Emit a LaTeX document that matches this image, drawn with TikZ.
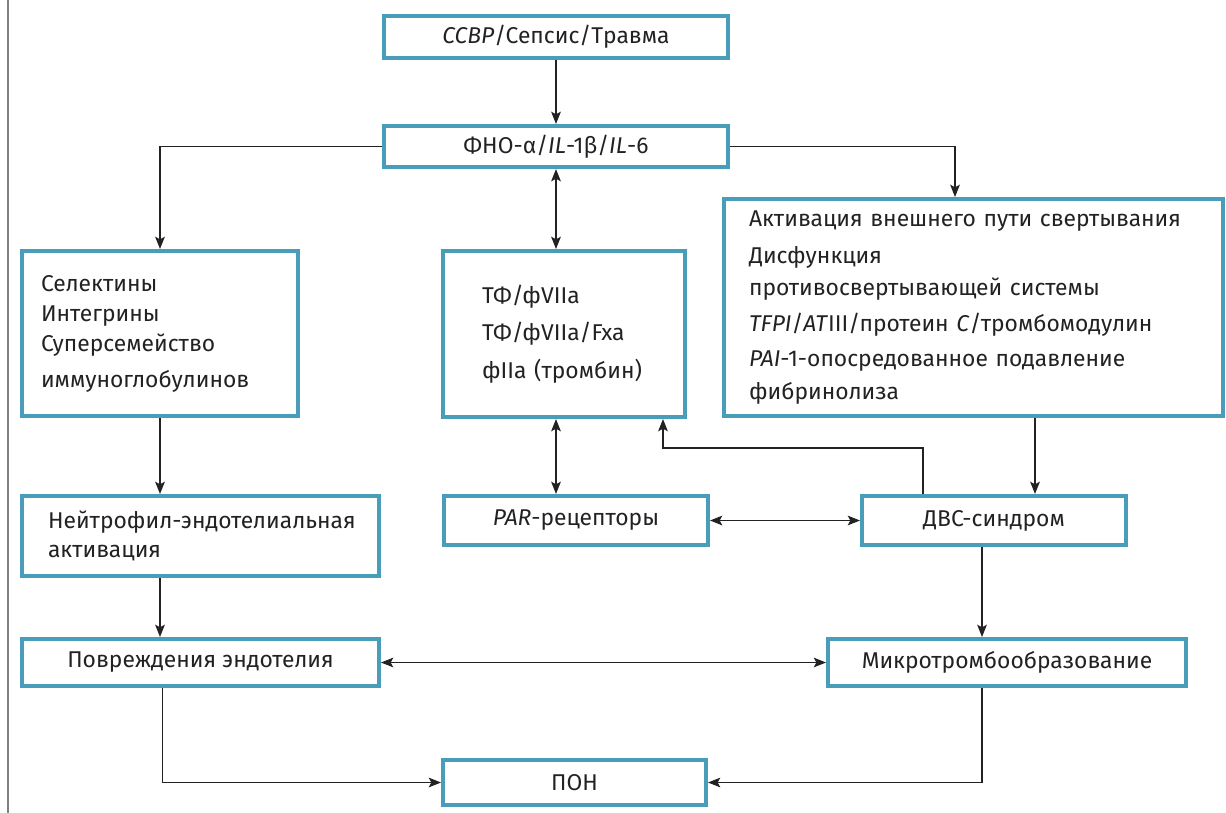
\documentclass[tikz,border=0pt]{standalone}
\usepackage{fontspec}
\setmainfont{Fira Sans}
\usepackage{tikz}
\usetikzlibrary{arrows.meta}
\definecolor{boxcol}{HTML}{4A9DBA}
\definecolor{linecol}{HTML}{222222}
\tikzset{
	box/.style={draw=boxcol, line width=2.3pt, rectangle, fill=white, text=linecol, font=\fontsize{13pt}{15.5pt}\selectfont},
	tbox/.style={box, align=left, inner ysep=0pt},
	arr/.style={draw=linecol, line width=0.7pt, -{Stealth[length=7pt, width=5.5pt, inset=1.5pt]}},
	darr/.style={draw=linecol, line width=0.7pt, {Stealth[length=7pt, width=5.5pt, inset=1.5pt]}-{Stealth[length=7pt, width=5.5pt, inset=1.5pt]}}
}

\begin{document}
\begin{tikzpicture}[x=0.02cm, y=-0.02cm]
				\useasboundingbox (0, 0) rectangle (1226, 812);
				\draw[gray, line width=1.2pt] (8, -2) -- (8, 814);
				\node[box, minimum width=6.88cm, minimum height=0.84cm] (SSVR)at(556, 37) {\textit{ССВР}/Сепсис/Травма};
				\node[box, minimum width=6.88cm, minimum height=0.82cm] (FNO)at(556, 146.5) {ФНО-α/\textit{IL}-1β/\textit{IL}-6};
				\node[tbox, minimum width=5.52cm, minimum height=3.3cm, inner xsep=0.38cm, text width=4.76cm] (SEL)at(160, 333.5) {Селектины\\[1.6pt]Интегрины\\[1.6pt]Суперсемейство\\[5pt]иммуноглобулинов};
				\node[tbox, minimum width=4.84cm, minimum height=3.32cm, inner xsep=0.78cm, text width=3.28cm] (TF)at(564, 334) {ТФ/фVIIa\\[6pt]ТФ/фVIIa/Fxa\\[6pt]фIIa (тромбин)};
				\node[tbox, minimum width=9.98cm, minimum height=4.34cm, inner xsep=0.5cm, text width=8.98cm] (AKT)at(973.5, 307.5) {Активация внешнего пути свертывания\\[5.5pt]Дисфункция\\[2.5pt]противосвертывающей системы\\[5pt]\textit{TFPI}/\textit{AT}III/протеин \textit{C}/тромбомодулин\\[4.3pt]\textit{PAI}-1-опосредованное подавление\\[3.2pt]фибринолиза};
				\node[tbox, minimum width=7.14cm, minimum height=1.6cm, inner xsep=0.52cm, text width=6.1cm] (NEIT)at(200.5, 536) {\mbox{Нейтрофил-эндотелиальная}\\[1pt]активация};
				\node[box, minimum width=5.28cm, minimum height=0.98cm] (PAR)at(576, 520.5) {\textit{PAR}-рецепторы};
				\node[box, minimum width=5.28cm, minimum height=0.98cm] (DVS)at(994, 520.5) {ДВС-синдром};
				\node[box, minimum width=7.14cm, minimum height=0.94cm] (POVR)at(200.5, 662.5) {Повреждения эндотелия};
				\node[box, minimum width=7.16cm, minimum height=0.94cm] (MIKRO)at(1007, 662.5) {Микротромбообразование};
				\node[box, minimum width=5.26cm, minimum height=0.9cm] (PON)at(574.5, 782.5) {ПОН};
				\draw[arr] (SSVR.south) -- (FNO.north);
				\draw[darr] (FNO.south) -- (FNO.south |- TF.north);
				\draw[arr] (FNO.west) -| (SEL.north);
				\draw[arr] (FNO.east) -| ([xshift=-0.37cm]AKT.north);
				\draw[arr] (SEL.south) -- (SEL.south |- NEIT.north);
				\draw[arr] (SEL.south |- NEIT.south) -- (SEL.south |- POVR.north);
				\draw[darr] (FNO.south |- TF.south) -- (FNO.south |- PAR.north);
				\draw[arr] ([xshift=-1.42cm]DVS.north) |- ([xshift=1.98cm, yshift=-0.58cm]TF.south) -- ([xshift=1.98cm]TF.south);
				\draw[arr] ([xshift=0.82cm]DVS.north |- AKT.south) -- ([xshift=0.82cm]DVS.north);
				\draw[darr] (PAR.east) -- (DVS.west);
				\draw[arr] ([xshift=-0.24cm]DVS.south) -- ([xshift=-0.24cm]DVS.south |- MIKRO.north);
				\draw[darr] (POVR.east) -- (MIKRO.west);
				\draw[arr] ([xshift=-0.76cm]POVR.south) |- (PON.west);
				\draw[arr] ([xshift=-0.5cm]MIKRO.south) |- (PON.east);
			\end{tikzpicture}
\end{document}
